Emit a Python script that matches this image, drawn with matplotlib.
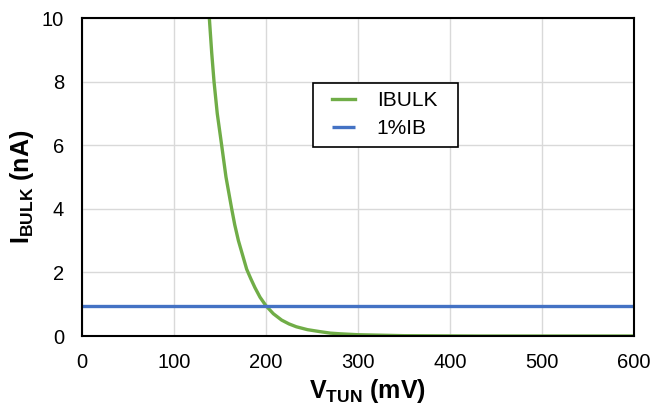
import matplotlib
matplotlib.use("Agg")
import matplotlib.pyplot as plt
from matplotlib.patches import Rectangle

# Data
vtun = [138.4, 141, 143.5, 147, 151.8, 156.5, 162.7, 166, 170, 174.5, 179, 183.5, 188,
        193.5, 200, 208, 217, 225, 233, 245, 258, 270, 280, 300, 350, 430, 500, 600]
ibulk = [10.0, 8.9, 8.0, 7.0, 6.0, 5.0, 4.0, 3.5, 3.0, 2.55, 2.1, 1.8, 1.52,
         1.22, 0.95, 0.7, 0.5, 0.38, 0.29, 0.2, 0.14, 0.09, 0.07, 0.04, 0.01, 0.0, 0.0, 0.0]
ib1_x = [0, 600]
ib1_y = [0.95, 0.95]
xticks = [0, 100, 200, 300, 400, 500, 600]
yticks = [0, 2, 4, 6, 8, 10]

plt.rcParams['font.family'] = ['Liberation Sans', 'DejaVu Sans']
plt.rcParams['mathtext.fontset'] = 'custom'
plt.rcParams['mathtext.rm'] = 'Liberation Sans:bold'
plt.rcParams['mathtext.it'] = 'Liberation Sans:bold'
plt.rcParams['mathtext.bf'] = 'Liberation Sans:bold'

fig = plt.figure(figsize=(6.51, 4.09), dpi=100)
ax = fig.add_axes([82/651, 1 - 336/409, 552/651, 318/409])

ax.plot(vtun, ibulk, color='#70ad47', lw=2.4, label='IBULK', solid_joinstyle='round')
ax.plot(ib1_x, ib1_y, color='#4472c4', lw=2.4, label='1%IB', solid_capstyle='butt')

ax.set_xlim(0, 600)
ax.set_ylim(0, 10)
ax.set_xticks(xticks)
ax.set_yticks(yticks)
ax.tick_params(length=0, labelsize=14.5)
ax.tick_params(axis='y', pad=13)
ax.tick_params(axis='x', pad=12)
ax.grid(True, color='#d9d9d9', lw=1)
ax.set_axisbelow(True)
for s in ax.spines.values():
    s.set_linewidth(1.5)
    s.set_color('black')
    s.set_zorder(3)

ax.set_xlabel(r'$\mathrm{V_{TUN}}$ (mV)', fontsize=18, fontweight='bold')
ax.xaxis.set_label_coords(0.518, -0.13)
ax.set_ylabel(r'$\mathrm{I_{BULK}}$ (nA)', fontsize=18, fontweight='bold')
ax.yaxis.set_label_coords(-0.083, 0.47)

# legend frame
ax.add_patch(Rectangle((0.4185, 0.5953), 0.2627, 0.2013, transform=ax.transAxes,
                       facecolor='white', edgecolor='black', lw=1.2, zorder=4))
leg = ax.legend(loc='center left', bbox_to_anchor=(0.4529, 0.6965), fontsize=15,
                frameon=False, handlelength=1.1, handletextpad=1.05, borderpad=0,
                labelspacing=0.45, borderaxespad=0)
leg.set_zorder(5)

fig.savefig('out.png', dpi=100)
